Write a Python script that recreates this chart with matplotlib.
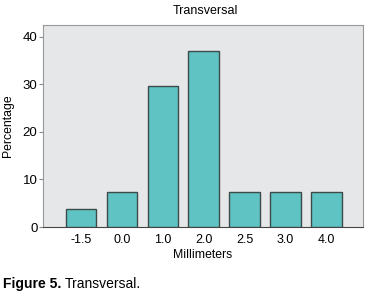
import matplotlib
matplotlib.use("Agg")
import matplotlib.pyplot as plt

plt.rcParams['font.family'] = ['Liberation Sans', 'DejaVu Sans']

# data
categories = ["-1.5", "0.0", "1.0", "2.0", "2.5", "3.0", "4.0"]
percent = [3.7, 7.4, 29.6, 37.0, 7.4, 7.4, 7.4]
y_ticks = [0, 10, 20, 30, 40]

fig = plt.figure(figsize=(3.65, 2.96), dpi=100)
ax = fig.add_axes([0.118, 0.233, 0.877, 0.683])

ax.set_facecolor("#e6e7e9")
ax.bar(range(len(categories)), percent, width=0.75,
       color="#5fc3c3", edgecolor="#3c4a4a", linewidth=1.0, zorder=3)

ax.set_xlim(-0.93, 6.9)
ax.set_ylim(0, 42.5)
ax.set_xticks(range(len(categories)))
ax.set_xticklabels(categories)
ax.set_yticks(y_ticks)
ax.tick_params(axis="x", length=0, labelsize=9, pad=5)
ax.tick_params(axis="y", length=3, labelsize=9.5, pad=1, color="#888888")

for s in ax.spines.values():
    s.set_color("#999999")
ax.spines["bottom"].set_color("#444444")

ax.set_xlabel("Millimeters", fontsize=8.8, labelpad=2)
ax.set_ylabel("Percentage", fontsize=8.8, labelpad=6)
fig.text(0.562, 0.963, "Transversal", ha="center", va="center", fontsize=9)

fig.text(0.008, 0.04, "Figure 5.", fontsize=10, fontweight="bold", va="center")
fig.text(0.178, 0.04, "Transversal.", fontsize=10, va="center")

fig.savefig("out.png", dpi=100)
